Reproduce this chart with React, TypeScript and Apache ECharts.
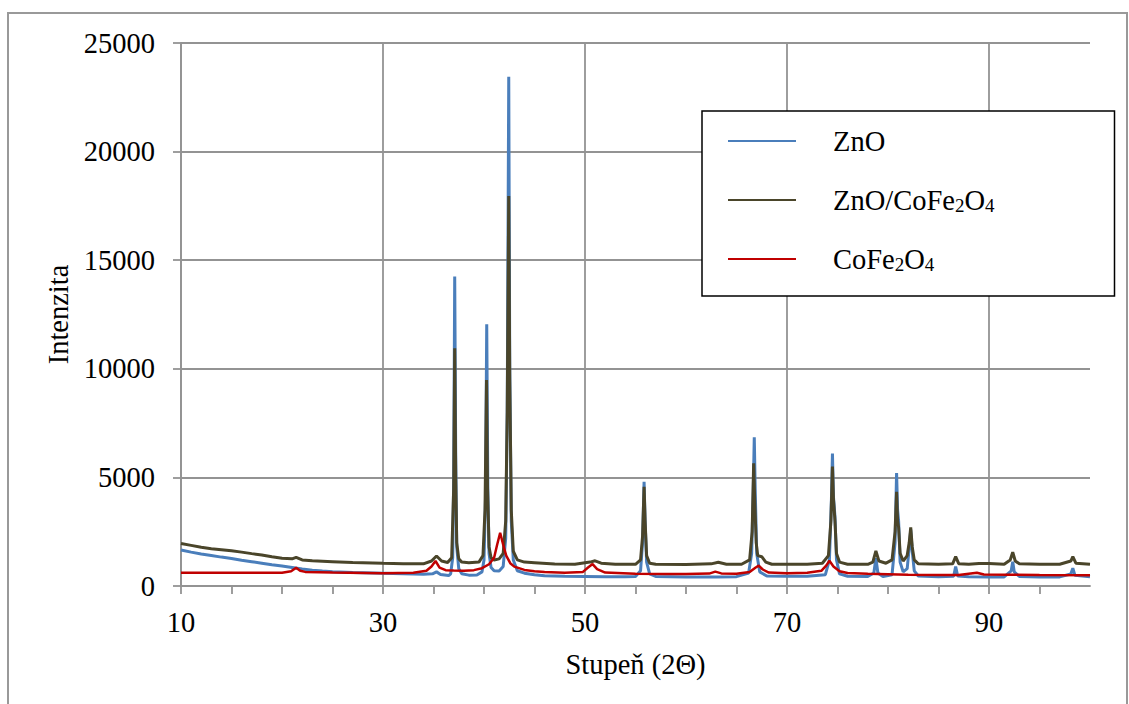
import React, { useEffect, useRef } from 'react';
import * as echarts from 'echarts';

const seriesNames = ['ZnO', 'ZnO/CoFe2O4', 'CoFe2O4'];
const seriesColors = ['#4a7ebb', '#4a452a', '#c00000'];
const xTickLabels = [10, 30, 50, 70, 90];
const yTickLabels = [0, 5000, 10000, 15000, 20000, 25000];

const znoData: [number, number][] = [
  [10, 1660], [11, 1560], [12, 1470], [13, 1400], [14, 1330], [15, 1270], [16, 1190], [17, 1120],
  [18, 1050], [19, 980], [20, 920], [21, 850], [22, 780], [23, 730], [24, 690], [25, 660], [27, 620],
  [30, 585], [32, 560], [34, 545], [34.9, 560], [35.3, 650], [35.7, 530], [36.5, 480],
  [36.7, 560], [36.9, 1300], [37.0, 5000], [37.1, 14250], [37.2, 6000], [37.3, 1800], [37.5, 800],
  [37.8, 560], [38.5, 500], [39.3, 510], [39.8, 650],
  [40.0, 1200], [40.15, 4000], [40.27, 12050], [40.38, 4500], [40.5, 1500], [40.7, 850], [41.0, 700],
  [41.5, 690], [41.9, 900],
  [42.15, 2200], [42.3, 8000], [42.45, 23450], [42.55, 10000], [42.7, 3000], [42.9, 1200], [43.3, 700],
  [44, 590], [45, 520], [46, 470], [48, 450], [50, 440], [52, 430], [54, 430], [55, 440],
  [55.5, 700], [55.7, 2000], [55.85, 4800], [55.95, 3000], [56.1, 1100], [56.4, 560], [57, 440],
  [60, 420], [63, 420], [65, 430], [66.2, 600],
  [66.5, 1500], [66.65, 4200], [66.76, 6850], [66.85, 4500], [67.0, 1500], [67.3, 650], [68, 460],
  [70, 450], [72, 450], [73.8, 520],
  [74.2, 1200], [74.4, 4000], [74.5, 6100], [74.6, 4100], [74.75, 3200], [74.9, 1200], [75.2, 560],
  [76, 450], [78, 440],
  [78.6, 600], [78.8, 1280], [79.0, 600], [79.5, 440], [80.4, 520],
  [80.7, 2000], [80.85, 5200], [80.95, 3500], [81.05, 3000], [81.2, 1100], [81.5, 650], [81.9, 800],
  [82.15, 2000], [82.25, 2600], [82.4, 1600], [82.6, 700], [83, 460], [85, 430], [86.5, 450],
  [86.7, 890], [86.9, 460], [88, 430], [90, 420], [91.5, 420], [92.2, 700], [92.35, 1120], [92.5, 650],
  [93, 440], [95, 420], [97, 420], [98.1, 550], [98.3, 820], [98.5, 500], [100, 430],
];

const compositeData: [number, number][] = [
  [10, 1960], [11, 1870], [12, 1780], [13, 1720], [14, 1670], [15, 1620], [16, 1560], [17, 1490],
  [18, 1430], [19, 1350], [20, 1280], [21, 1250], [21.4, 1320], [22, 1200], [23, 1160], [25, 1120],
  [27, 1080], [30, 1045], [32, 1030], [34, 1020], [34.8, 1150], [35.3, 1380], [35.8, 1150], [36.4, 1080],
  [36.8, 1300], [37.0, 4500], [37.1, 10950], [37.2, 5000], [37.3, 2000], [37.5, 1250], [37.8, 1100],
  [38.5, 1075], [39.5, 1100], [39.9, 1400],
  [40.1, 3500], [40.25, 9480], [40.35, 4500], [40.5, 1800], [40.7, 1300], [41.0, 1200], [41.5, 1250],
  [41.9, 1500],
  [42.15, 3000], [42.3, 8000], [42.45, 17950], [42.55, 9500], [42.7, 3500], [42.9, 1600], [43.3, 1200],
  [44, 1100], [45, 1075], [47, 1010], [49, 1000], [50.5, 1100], [51, 1160], [51.6, 1050], [53, 1000],
  [55, 1000],
  [55.5, 1200], [55.7, 2300], [55.85, 4570], [55.95, 3000], [56.1, 1400], [56.4, 1050], [57, 1000],
  [60, 990], [62.5, 1020], [63.2, 1090], [64, 1000], [65.5, 1000], [66.3, 1200],
  [66.55, 2500], [66.7, 5650], [66.8, 4000], [66.95, 2000], [67.1, 1400], [67.5, 1350], [67.9, 1100],
  [68.5, 1000], [70, 1000], [72, 1000], [73.5, 1050], [74.1, 1400],
  [74.35, 3000], [74.5, 5500], [74.6, 4000], [74.75, 3000], [74.9, 1500], [75.2, 1100], [76, 1000],
  [78, 1000], [78.5, 1100], [78.8, 1620], [79.1, 1150], [79.8, 1050], [80.4, 1200],
  [80.7, 2500], [80.85, 4340], [80.95, 3000], [81.05, 2700], [81.2, 1500], [81.5, 1150], [81.9, 1400],
  [82.1, 2000], [82.25, 2700], [82.4, 1800], [82.6, 1200], [83, 1020], [85, 1000], [86.4, 1020],
  [86.7, 1350], [87, 1030], [88, 1000], [89, 1040], [90, 1040], [91.5, 1000], [92.1, 1200],
  [92.35, 1560], [92.6, 1150], [93, 1020], [95, 1000], [97, 1000], [98.1, 1150], [98.3, 1350],
  [98.6, 1050], [100, 1000],
];

const cofe2o4Data: [number, number][] = [
  [10, 615], [15, 615], [20, 615], [20.9, 680], [21.4, 845], [21.8, 700], [22.3, 650], [25, 620],
  [30, 590], [33, 610], [34.3, 700], [34.8, 900], [35.2, 1150], [35.6, 850], [36.2, 730], [37, 710],
  [38, 705], [39, 730], [39.8, 820], [40.5, 1000], [41.0, 1300], [41.3, 1900], [41.6, 2450],
  [41.9, 1900], [42.2, 1400], [42.6, 1050], [43, 890], [44, 740], [45, 680], [46, 650], [48, 610],
  [49.8, 650], [50.3, 850], [50.75, 1010], [51.2, 780], [52, 620], [55, 565], [58, 555], [60, 550],
  [62.3, 570], [62.9, 660], [63.5, 580], [65, 565], [66.3, 640], [66.9, 850], [67.2, 935], [67.6, 760],
  [68.2, 620], [70, 590], [72, 610], [73.4, 700], [73.9, 950], [74.2, 1160], [74.6, 900], [75.2, 680],
  [76, 600], [78, 560], [80, 540], [82, 520], [85, 505], [87, 510], [88.8, 610], [89.5, 530],
  [92, 520], [95, 505], [100, 500],
];

const FONT = '"Liberation Serif", "Times New Roman", serif';
const GRID_COLOR = '#939393';

export default function App() {
  const ref = useRef<HTMLDivElement>(null);
  useEffect(() => {
    if (!ref.current) return;
    const chart = echarts.init(ref.current, null, { renderer: 'svg' });
    const allData = [znoData, compositeData, cofe2o4Data];
    chart.setOption({
      animation: false,
      backgroundColor: '#ffffff',
      textStyle: { fontFamily: FONT },
      grid: { left: 181, top: 43, right: 39, bottom: 118, containLabel: false },
      graphic: [
        {
          type: 'rect',
          shape: { x: 8, y: 13, width: 1119, height: 720 },
          style: { fill: 'none', stroke: '#999999', lineWidth: 2 },
          silent: true,
          z: 0,
        },
      ],
      legend: {
        orient: 'vertical',
        left: 702,
        top: 111,
        icon: 'rect',
        itemWidth: 68,
        itemHeight: 2,
        itemGap: 29,
        padding: [15, 120, 22, 26],
        borderColor: '#000000',
        borderWidth: 1.5,
        backgroundColor: '#ffffff',
        data: seriesNames,
        textStyle: {
          fontFamily: FONT,
          fontSize: 28.5,
          color: '#000000',
          lineHeight: 30,
          padding: [0, 0, 0, 32],
          rich: {
            s: { fontFamily: FONT, fontSize: 19, color: '#000000', lineHeight: 14, verticalAlign: 'bottom' },
          },
        },
        formatter: (name: string) =>
          name === 'ZnO' ? 'ZnO' : name === 'ZnO/CoFe2O4' ? 'ZnO/CoFe{s|2}O{s|4}' : 'CoFe{s|2}O{s|4}',
      },
      xAxis: {
        type: 'value',
        min: 10,
        max: 100,
        interval: 5,
        name: 'Stupeň (2Θ)',
        nameLocation: 'middle',
        nameGap: 64,
        nameTextStyle: { fontFamily: FONT, fontSize: 28.5, color: '#000000' },
        axisLine: { show: true, lineStyle: { color: GRID_COLOR, width: 1.8 } },
        axisTick: { show: true, inside: false, length: 8, lineStyle: { color: GRID_COLOR, width: 1.8 } },
        axisLabel: {
          fontFamily: FONT,
          fontSize: 28.5,
          color: '#000000',
          margin: 22,
          showMaxLabel: false,
          formatter: (v: number) => (xTickLabels.indexOf(v) >= 0 ? String(v) : ''),
        },
        splitLine: {
          show: true,
          showMinLine: true,
          showMaxLine: false,
          lineStyle: {
            color: [GRID_COLOR, 'rgba(0,0,0,0)', 'rgba(0,0,0,0)', 'rgba(0,0,0,0)'],
            width: 1.8,
          },
        },
      },
      yAxis: {
        type: 'value',
        min: yTickLabels[0],
        max: yTickLabels[yTickLabels.length - 1],
        interval: 5000,
        name: 'Intenzita',
        nameLocation: 'middle',
        nameGap: 98,
        nameTextStyle: { fontFamily: FONT, fontSize: 28.5, color: '#000000' },
        axisLine: { show: true, lineStyle: { color: GRID_COLOR, width: 1.8 } },
        axisTick: { show: true, inside: false, length: 8, lineStyle: { color: GRID_COLOR, width: 1.8 } },
        axisLabel: {
          fontFamily: FONT,
          fontSize: 28.5,
          color: '#000000',
          margin: 26,
          formatter: (v: number) => String(v),
        },
        splitLine: { show: true, lineStyle: { color: GRID_COLOR, width: 1.8 } },
      },
      series: seriesNames.map((name, i) => ({
        name,
        type: 'line',
        symbol: 'none',
        showSymbol: false,
        color: seriesColors[i],
        lineStyle: { color: seriesColors[i], width: i === 2 ? 2.5 : 3 },
        data: allData[i],
        z: 2 + i,
      })),
    });
    return () => chart.dispose();
  }, []);
  return (
    <div
      ref={ref}
      style={{ position: 'absolute', left: 0, top: 0, width: 1129, height: 704, background: '#fff' }}
    />
  );
}
